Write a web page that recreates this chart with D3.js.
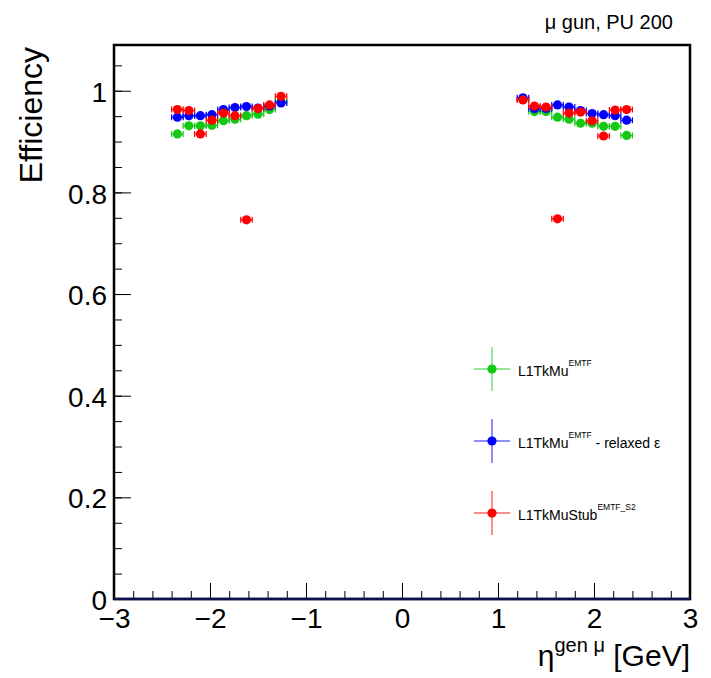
<!DOCTYPE html>
<html>
<head>
<meta charset="utf-8">
<script src="https://cdn.jsdelivr.net/npm/d3@7"></script>
<style>
  body { margin: 0; background: #fff; }
  svg { font-family: "Liberation Sans", Arial, sans-serif; }
</style>
</head>
<body>
<div id="chart"></div>
<script>
// eta bin centres (bin width 0.12)
const eta = [-2.34, -2.22, -2.10, -1.98, -1.86, -1.74, -1.62, -1.50, -1.38, -1.26,
              1.26,  1.38,  1.50,  1.62,  1.74,  1.86,  1.98,  2.10,  2.22,  2.34];
const etaHalfWidth = 0.06;

const effTkMu = [0.915, 0.931, 0.931, 0.932, 0.941, 0.944, 0.951, 0.954, 0.963, 0.979,
                 0.983, 0.959, 0.959, 0.948, 0.944, 0.936, 0.936, 0.930, 0.930, 0.912];
const effRelaxed = [0.948, 0.951, 0.951, 0.953, 0.963, 0.967, 0.969, 0.966, 0.970, 0.976,
                    0.986, 0.965, 0.965, 0.972, 0.968, 0.961, 0.955, 0.953, 0.951, 0.942];
const effStub = [0.963, 0.961, 0.915, 0.942, 0.956, 0.951, 0.746, 0.965, 0.972, 0.989,
                 0.982, 0.970, 0.968, 0.748, 0.956, 0.958, 0.941, 0.911, 0.962, 0.963];

const seriesNames = ["L1TkMu", "L1TkMu", "L1TkMuStub"];
const seriesSups = ["EMTF", "EMTF", "EMTF_S2"];
const seriesSuffix = ["", " - relaxed \u03b5", ""];
const seriesColors = ["#14c814", "#0000ff", "#ff0000"];

const xTicks = [-3, -2, -1, 0, 1, 2, 3];
const yTicks = [0, 0.2, 0.4, 0.6, 0.8, 1];

// Chart dimensions
const width = 711;
const height = 678;
const marginTop = 45;
const marginRight = 21;
const marginBottom = 79;
const marginLeft = 114;

const x = d3.scaleLinear()
  .domain([-3, 3])
  .range([marginLeft, width - marginRight]);

const y = d3.scaleLinear()
  .domain([0, 1.09])
  .range([height - marginBottom, marginTop]);

const series = [effTkMu, effRelaxed, effStub].map((vals, i) => ({
  color: seriesColors[i],
  points: eta.map((e, j) => ({eta: e, eff: vals[j]}))
}));

const svg = d3.select("#chart").append("svg")
  .attr("width", width)
  .attr("height", height)
  .attr("viewBox", [0, 0, width, height]);

const fmt = d => d < 0 ? "\u2212" + Math.abs(d) : String(d);

// x axis: major and minor ticks pointing inward
svg.append("g")
  .attr("transform", `translate(0,${height - marginBottom})`)
  .call(d3.axisBottom(x).tickValues(d3.range(-3, 3.001, 0.2)).tickSize(-8).tickFormat(""))
  .call(g => g.select(".domain").remove());

svg.append("g")
  .attr("transform", `translate(0,${height - marginBottom})`)
  .call(d3.axisBottom(x).tickValues(xTicks).tickSize(-16).tickPadding(9).tickFormat(fmt))
  .call(g => g.select(".domain").remove())
  .call(g => g.selectAll("text").attr("font-size", 28).attr("fill", "#000")
    .attr("font-family", "Liberation Sans, Arial, sans-serif"));

// y axis
svg.append("g")
  .attr("transform", `translate(${marginLeft},0)`)
  .call(d3.axisLeft(y).tickValues(d3.range(0, 1.0901, 0.05)).tickSize(-8).tickFormat(""))
  .call(g => g.select(".domain").remove());

svg.append("g")
  .attr("transform", `translate(${marginLeft},0)`)
  .call(d3.axisLeft(y).tickValues(yTicks).tickSize(-17).tickPadding(7).tickFormat(d => d3.format("~g")(d)))
  .call(g => g.select(".domain").remove())
  .call(g => g.selectAll("text").attr("font-size", 28).attr("dy", "0.38em").attr("fill", "#000")
    .attr("font-family", "Liberation Sans, Arial, sans-serif"));

// frame
svg.append("rect")
  .attr("x", marginLeft)
  .attr("y", marginTop)
  .attr("width", width - marginLeft - marginRight)
  .attr("height", height - marginTop - marginBottom)
  .attr("fill", "none")
  .attr("stroke", "#000")
  .attr("stroke-width", 2.5);

svg.append("line")
  .attr("x1", marginLeft).attr("x2", width - marginRight)
  .attr("y1", y(0)).attr("y2", y(0))
  .attr("stroke", "#101050")
  .attr("stroke-width", 2.5);

// points with horizontal error bars
const groups = svg.append("g")
  .selectAll("g")
  .data(series)
  .join("g")
  .attr("fill", d => d.color)
  .attr("stroke", d => d.color);

groups.selectAll("line.err")
  .data(d => d.points)
  .join("line")
  .attr("class", "err")
  .attr("x1", d => x(d.eta - etaHalfWidth))
  .attr("x2", d => x(d.eta + etaHalfWidth))
  .attr("y1", d => y(d.eff))
  .attr("y2", d => y(d.eff))
  .attr("stroke-width", 1.2);

groups.selectAll("path.cap")
  .data(d => d.points)
  .join("path")
  .attr("class", "cap")
  .attr("d", d => {
    const x0 = x(d.eta - etaHalfWidth), x1 = x(d.eta + etaHalfWidth), yy = y(d.eff);
    return `M${x0},${yy - 3}V${yy + 3}M${x1},${yy - 3}V${yy + 3}`;
  })
  .attr("fill", "none")
  .attr("stroke-width", 1.2);

groups.selectAll("circle")
  .data(d => d.points)
  .join("circle")
  .attr("cx", d => x(d.eta))
  .attr("cy", d => y(d.eff))
  .attr("r", 4.6)
  .attr("stroke", "none");

// legend
const legend = svg.append("g")
  .selectAll("g")
  .data(series)
  .join("g")
  .attr("transform", (d, i) => `translate(492,${369 + i * 72})`);

legend.append("line")
  .attr("x1", -18).attr("x2", 18)
  .attr("stroke", d => d.color).attr("stroke-opacity", 0.6).attr("stroke-width", 1.5);
legend.append("line")
  .attr("y1", -22).attr("y2", 22)
  .attr("stroke", d => d.color).attr("stroke-opacity", 0.6).attr("stroke-width", 1.5);
legend.append("circle")
  .attr("r", 4.6)
  .attr("fill", d => d.color);

const legendText = legend.append("text")
  .attr("x", 26)
  .attr("y", 7)
  .attr("font-size", 14)
  .attr("fill", "#000");
legendText.append("tspan").text((d, i) => seriesNames[i]);
legendText.append("tspan").attr("dy", -10).attr("font-size", 8.5).text((d, i) => seriesSups[i]);
legendText.append("tspan").attr("dy", 10).text((d, i) => seriesSuffix[i]);

// axis titles
svg.append("text")
  .attr("transform", "translate(42,47) rotate(-90)")
  .attr("text-anchor", "end")
  .attr("font-size", 32)
  .text("Efficiency");

const xTitle = svg.append("text")
  .attr("x", 690)
  .attr("y", 666)
  .attr("text-anchor", "end")
  .attr("font-size", 30);
xTitle.append("tspan").text("\u03b7");
xTitle.append("tspan").attr("dy", -14).attr("font-size", 20).text("gen \u03bc");
xTitle.append("tspan").attr("dy", 14).text(" [GeV]");

svg.append("text")
  .attr("x", 673)
  .attr("y", 29)
  .attr("text-anchor", "end")
  .attr("font-size", 20)
  .text("\u03bc gun, PU 200");
</script>
</body>
</html>
